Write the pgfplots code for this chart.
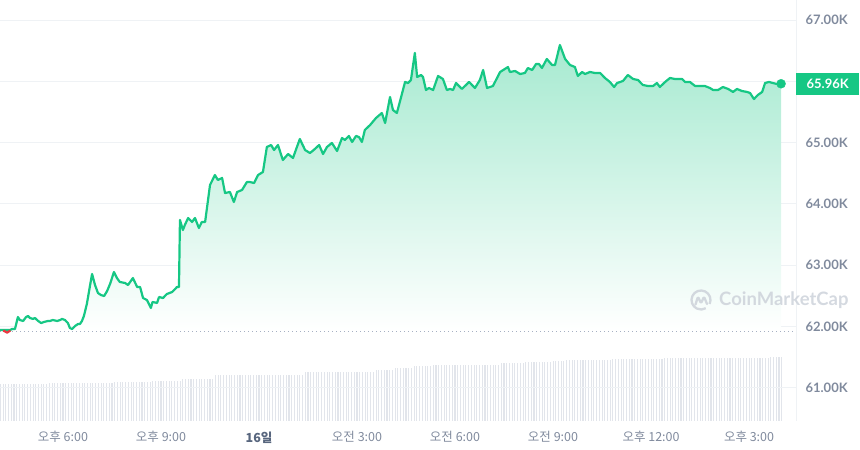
\documentclass[border=0pt]{standalone}
\usepackage{pgfplots}
\pgfplotsset{compat=1.18}
\usepackage{pgfplotstable}
\usepackage{fontspec}
\setmainfont{Lato}
\newfontfamily\kr{Noto Sans CJK KR}
\definecolor{cmcgreen}{HTML}{16C784}
\definecolor{cmcred}{HTML}{EA3943}
\definecolor{labelgray}{HTML}{808A9D}
\definecolor{darkgray}{HTML}{58667E}
\definecolor{gridgray}{HTML}{EFF2F5}
\definecolor{volgray}{HTML}{E2E5EB}
\definecolor{dotgray}{HTML}{A6B0C3}
\definecolor{markgray}{HTML}{CDD2DA}

% BTC price, hours from 15th 00:00 (x) and thousands of USD (y)
\pgfplotstableread{
h p
16.07 61.943
16.22 61.943
16.38 61.943
16.44 61.959
16.53 61.959
16.62 62.155
16.68 62.106
16.78 62.090
16.87 62.155
16.93 62.171
16.99 62.139
17.08 62.123
17.14 62.139
17.24 62.090
17.33 62.057
17.42 62.074
17.54 62.090
17.60 62.090
17.69 62.106
17.82 62.090
17.91 62.106
17.97 62.123
18.06 62.106
18.15 62.057
18.21 61.976
18.28 61.959
18.37 62.008
18.46 62.041
18.52 62.041
18.58 62.090
18.64 62.171
18.73 62.367
18.83 62.677
18.89 62.857
18.98 62.677
19.07 62.547
19.16 62.514
19.26 62.498
19.35 62.579
19.44 62.694
19.56 62.889
19.65 62.791
19.74 62.726
19.90 62.710
19.99 62.677
20.14 62.791
20.27 62.644
20.36 62.644
20.45 62.465
20.57 62.432
20.69 62.302
20.74 62.400
20.88 62.384
20.94 62.481
21.06 62.465
21.18 62.530
21.34 62.563
21.49 62.644
21.55 62.644
21.58 63.738
21.67 63.574
21.73 63.656
21.83 63.770
21.95 63.705
22.04 63.770
22.16 63.607
22.25 63.705
22.35 63.705
22.50 64.308
22.65 64.471
22.74 64.390
22.87 64.423
22.96 64.178
23.11 64.194
23.23 64.031
23.33 64.194
23.48 64.227
23.63 64.357
23.72 64.357
23.85 64.341
23.97 64.471
24.12 64.520
24.24 64.928
24.37 64.961
24.46 64.879
24.58 64.961
24.73 64.716
24.89 64.814
25.04 64.749
25.16 64.928
25.25 65.059
25.41 64.879
25.56 64.830
25.71 64.896
25.84 64.961
25.96 64.814
26.08 64.928
26.23 64.994
26.39 64.863
26.54 65.075
26.63 65.043
26.75 65.108
26.85 65.010
26.97 65.108
27.06 65.091
27.15 65.010
27.24 65.206
27.40 65.287
27.58 65.401
27.76 65.483
27.86 65.320
28.01 65.744
28.10 65.532
28.22 65.483
28.35 65.744
28.47 65.989
28.56 65.972
28.65 66.021
28.77 66.462
28.84 66.070
28.96 66.103
29.02 66.070
29.11 65.858
29.20 65.891
29.33 65.858
29.48 66.087
29.63 66.038
29.75 65.858
29.85 65.875
29.94 65.858
30.03 65.972
30.21 65.875
30.43 65.989
30.61 65.891
30.76 66.021
30.86 66.184
30.98 65.891
31.16 65.923
31.38 66.152
31.62 66.233
31.68 66.152
31.84 66.168
31.99 66.119
32.14 66.136
32.23 66.217
32.36 66.184
32.48 66.282
32.57 66.282
32.66 66.217
32.81 66.364
32.97 66.266
33.06 66.266
33.21 66.592
33.37 66.364
33.52 66.266
33.67 66.233
33.76 66.087
33.89 66.152
33.98 66.119
34.13 66.152
34.28 66.136
34.44 66.136
34.59 66.054
34.74 65.989
34.87 65.907
34.96 65.972
35.14 66.005
35.29 66.103
35.45 66.038
35.60 66.021
35.75 65.940
35.91 65.923
36.06 65.923
36.18 65.972
36.27 65.907
36.43 65.989
36.58 66.054
36.73 66.038
36.95 66.038
37.04 65.989
37.19 65.989
37.35 65.923
37.50 65.923
37.65 65.923
37.80 65.891
37.90 65.858
38.05 65.858
38.20 65.907
38.36 65.875
38.51 65.826
38.63 65.875
38.78 65.842
38.94 65.826
39.03 65.809
39.15 65.711
39.27 65.777
39.40 65.826
39.49 65.972
39.61 65.989
39.73 65.972
39.85 65.956
39.98 65.960
}\price

% 5-minute volume bars (relative height), one value per bar, 12 per hour
\pgfplotstableread[row sep=\\,header=false]{
37\\37\\37\\37\\37\\37\\37\\37\\37\\37\\37\\37\\
37\\37\\37\\37\\37\\37\\38\\38\\38\\38\\38\\38\\
38\\38\\38\\38\\38\\38\\38\\38\\38\\38\\38\\38\\
38\\38\\38\\38\\38\\38\\39\\39\\39\\39\\39\\39\\
39\\39\\39\\39\\39\\39\\39\\39\\40\\40\\40\\40\\
40\\40\\40\\40\\40\\40\\40\\42\\42\\42\\42\\42\\
42\\42\\42\\42\\42\\42\\42\\46\\46\\46\\46\\46\\
46\\46\\46\\46\\46\\46\\46\\46\\46\\46\\46\\46\\
46\\46\\46\\46\\46\\46\\46\\46\\46\\46\\46\\46\\
46\\46\\46\\46\\49\\49\\49\\49\\49\\49\\49\\49\\
49\\49\\49\\49\\49\\49\\49\\49\\49\\49\\49\\49\\
49\\49\\49\\49\\49\\49\\51\\51\\51\\51\\51\\51\\
51\\53\\53\\53\\53\\53\\53\\53\\55\\55\\55\\55\\
55\\55\\55\\56\\56\\56\\56\\56\\56\\56\\56\\56\\
56\\56\\56\\56\\56\\56\\56\\56\\56\\56\\56\\56\\
56\\56\\56\\56\\58\\58\\58\\58\\58\\58\\58\\58\\
58\\59\\59\\59\\59\\59\\59\\59\\59\\59\\59\\60\\
60\\60\\60\\60\\61\\61\\61\\61\\61\\61\\61\\61\\
61\\61\\61\\61\\61\\61\\61\\61\\61\\62\\62\\62\\
62\\62\\62\\62\\62\\62\\62\\62\\62\\62\\62\\62\\
62\\62\\62\\62\\63\\63\\63\\63\\63\\63\\63\\63\\
63\\63\\63\\63\\63\\63\\63\\63\\63\\63\\63\\63\\
63\\63\\63\\63\\63\\63\\63\\63\\63\\63\\63\\63\\
63\\63\\63\\63\\63\\63\\63\\64\\64\\64\\64\\64\\
}\volume

\begin{document}
\begin{tikzpicture}[x=1pt,y=1pt]

% volume bars, own scale, same frame
\begin{axis}[
  name=vol, at={(0,29)}, anchor=south west,
  width=796pt, height=421pt, scale only axis,
  hide axis,
  xmin=0.859, xmax=293.24, ymin=0, ymax=421,
]
\addplot[ycomb, draw=volgray, line width=1.1pt, mark=none]
  table[x expr=\coordindex+1, y index=0] {\volume};
\end{axis}

\begin{axis}[
  at={(vol.south west)}, anchor=south west,
  width=796pt, height=421pt, scale only axis,
  clip=false,
  xmin=16.0716, xmax=40.437, ymin=60.4585, ymax=67.3263,
  axis line style={draw=none},
  major tick length=0pt,
  ymajorgrids, grid style={gridgray, line width=0.9pt},
  ytick={61,62,63,64,65,66,67},
  yticklabels={61.00K,62.00K,63.00K,64.00K,65.00K,,67.00K},
  yticklabel pos=right,
  yticklabel style={font=\bfseries\fontsize{13}{15}\selectfont, text=labelgray, anchor=west, xshift=6pt},
  xtick={18,21,24,27,30,33,36,39},
  xticklabels={오후 6:00,오후 9:00,{\color{darkgray}\bfseries 16일},오전 3:00,오전 6:00,오전 9:00,오후 12:00,오후 3:00},
  xticklabel style={font=\kr\fontsize{12.5}{14}\selectfont, text=labelgray, yshift=-7pt},
]
% gradient area down to the opening price
\addplot[top color=cmcgreen!38!white, bottom color=white, draw=none, mark=none]
  table {\price} -- (axis cs:39.98,61.927) -- (axis cs:16.07,61.927) -- cycle;

\addplot[dotgray, line width=0.9pt, dash pattern=on 0.9pt off 3.1pt]
  coordinates {(16.0716,61.927) (40.437,61.927)};

\addplot[cmcgreen, line width=2.2pt, line join=round, mark=none] table {\price};
\addplot[cmcred, line width=2.2pt, line join=round, mark=none]
  coordinates {(16.17,61.935) (16.29,61.900) (16.39,61.935)};
\addplot[only marks, mark=*, mark size=4.5pt, cmcgreen] coordinates {(39.98,65.96)};

\draw[gridgray, line width=0.9pt] (rel axis cs:1,0) -- (rel axis cs:1,1);
\node[fill=cmcgreen, text=white, font=\bfseries\fontsize{13}{15}\selectfont,
  anchor=west, minimum height=22pt, minimum width=63pt, inner sep=0pt]
  at (axis cs:40.437,65.96) {65.96K};
\end{axis}

% CoinMarketCap watermark
\begin{scope}[markgray, opacity=0.85]
\draw[line width=2.3pt] (701,150) ++(-25:9.5) arc[start angle=-25, end angle=300, radius=9.5];
\draw[line width=2.3pt, line join=round, line cap=round, rounded corners=1.5pt]
  (695.5,145.5) -- (698,153.5) -- (701,146.5) -- (704,153.5) -- (707,146);
\node[anchor=west, font=\bfseries\fontsize{18.5}{20}\selectfont, text=markgray, inner sep=0pt]
  at (719,149.5) {CoinMarketCap};
\end{scope}

% page is exactly the 860 x 450 frame
\pgfresetboundingbox
\useasboundingbox (0,0) rectangle (860,450);
\end{tikzpicture}
\end{document}
